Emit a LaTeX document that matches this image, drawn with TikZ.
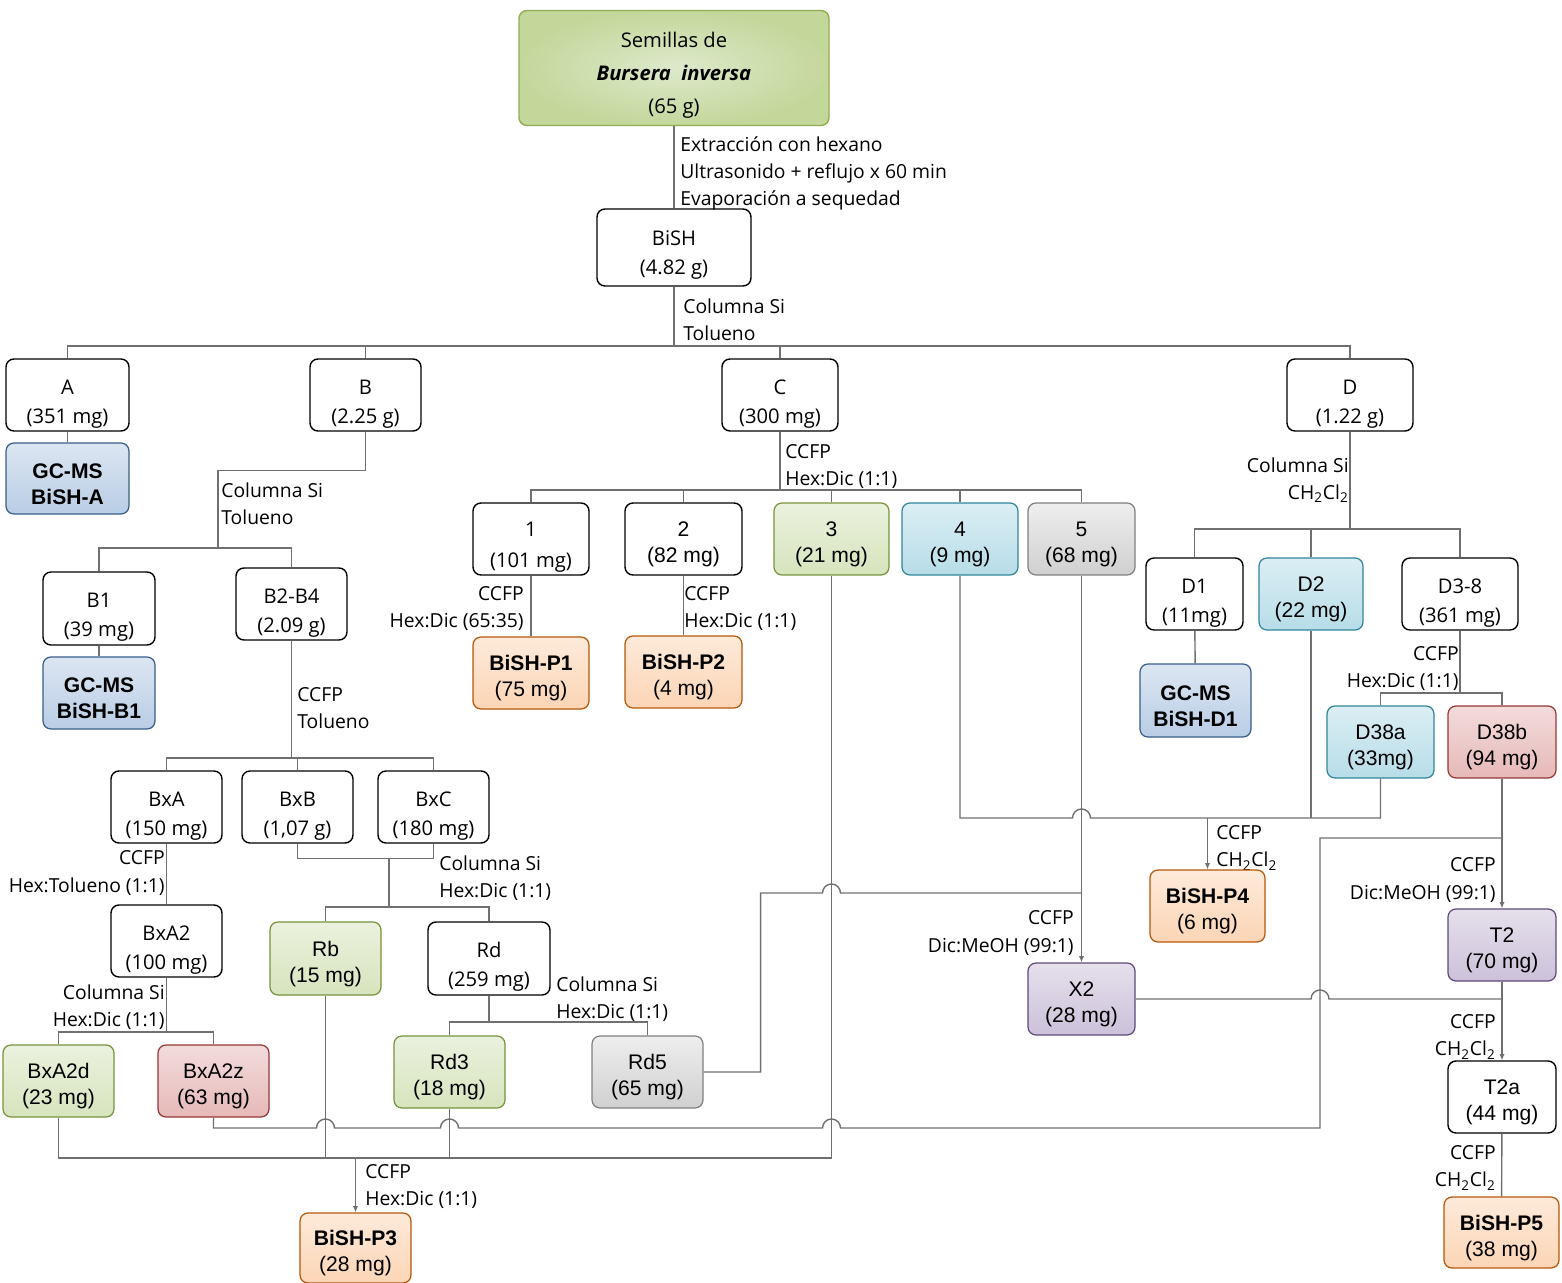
\documentclass[tikz,border=0pt]{standalone}
\usepackage{fontspec}
\setmainfont{Liberation Sans}
\newfontfamily\handfont{Open Sans}
\usepackage{tikz}
\usetikzlibrary{arrows.meta}
\definecolor{linegray}{RGB}{112,112,112}
\definecolor{seedin}{RGB}{222,233,203}
\definecolor{seedout}{RGB}{196,215,155}
\definecolor{seededge}{RGB}{143,174,83}
\definecolor{greentop}{RGB}{235,241,222}
\definecolor{greenbot}{RGB}{215,228,189}
\definecolor{greenedge}{RGB}{119,147,60}
\definecolor{bluetop}{RGB}{220,230,242}
\definecolor{bluebot}{RGB}{185,205,229}
\definecolor{blueedge}{RGB}{56,93,138}
\definecolor{orangetop}{RGB}{253,234,218}
\definecolor{orangebot}{RGB}{252,213,181}
\definecolor{orangeedge}{RGB}{182,87,8}
\definecolor{cyantop}{RGB}{219,238,244}
\definecolor{cyanbot}{RGB}{183,221,232}
\definecolor{cyanedge}{RGB}{49,133,155}
\definecolor{greytop}{RGB}{238,238,238}
\definecolor{greybot}{RGB}{208,208,208}
\definecolor{greyedge}{RGB}{127,127,127}
\definecolor{redtop}{RGB}{242,220,219}
\definecolor{redbot}{RGB}{230,185,184}
\definecolor{rededge}{RGB}{149,55,53}
\definecolor{violettop}{RGB}{229,224,236}
\definecolor{violetbot}{RGB}{204,193,218}
\definecolor{violetedge}{RGB}{95,73,122}
\newcommand{\handbox}{\handfont\fontsize{11.5}{16.5}\selectfont}
\newcommand{\arialbox}{\fontsize{12}{14.7}\selectfont}
\newcommand{\lblfont}{\handfont\fontsize{11}{15.4}\selectfont}
\tikzstyle{plainbox} = [
    rectangle,
    rounded corners=0.16cm,
    draw=black,
    line width=0.8pt,
    fill=white,
    align=center,
    inner sep=0pt,
    text height=35pt,
    font=\handbox
]
\tikzstyle{fillbox} = [plainbox, line width=0.7pt, text height=29.5pt, font=\arialbox]
\tikzstyle{greenbox} = [fillbox, draw=greenedge, top color=greentop, bottom color=greenbot]
\tikzstyle{bluebox} = [fillbox, draw=blueedge, top color=bluetop, bottom color=bluebot]
\tikzstyle{orangebox} = [fillbox, draw=orangeedge, top color=orangetop, bottom color=orangebot]
\tikzstyle{cyanbox} = [fillbox, draw=cyanedge, top color=cyantop, bottom color=cyanbot]
\tikzstyle{greybox} = [fillbox, draw=greyedge, top color=greytop, bottom color=greybot]
\tikzstyle{redbox} = [fillbox, draw=rededge, top color=redtop, bottom color=redbot]
\tikzstyle{violetbox} = [fillbox, draw=violetedge, top color=violettop, bottom color=violetbot]
\tikzstyle{lbl} = [inner sep=0pt, font=\lblfont]
\tikzstyle{line} = [draw=linegray, line width=0.8pt]
\tikzstyle{arrow} = [
    line,
    -{Latex[length=3.5pt, width=3pt]}
]
\tikzset{wh/.style 2 args={minimum width=#1*0.02cm, minimum height=#2*0.02cm}}
\begin{document}
\begin{tikzpicture}[x=0.02cm, y=-0.02cm]
    \useasboundingbox (0,0) rectangle (1562,1283);
    % Extraction
    \node[plainbox, wh={310}{115}, draw=seededge, inner color=seedin, outer color=seedout, text height=54pt, font=\handfont\fontsize{11.5}{18.5}\selectfont] (seeds) at (674,68) {Semillas de\\\textbf{\textit{Bursera\ \ inversa}}\\(65 g)};
    \node[plainbox, wh={154}{77}, text height=33.5pt] (bish) at (674,247.5) {BiSH\\(4.82 g)};
    \node[lbl, anchor=west, align=left] (lext) at (680,173) {Extracción con hexano\\Ultrasonido + reflujo x 60 min\\Evaporación a sequedad};
    \node[lbl, anchor=west, align=left] (lbish) at (683,320) {Columna Si\\Tolueno};

    % First fractions
    \node[plainbox, wh={123}{72}] (A) at (67.5,395) {A\\(351 mg)};
    \node[plainbox, wh={111}{72}] (B) at (365.5,395) {B\\(2.25 g)};
    \node[plainbox, wh={116}{72}] (C) at (780,395) {C\\(300 mg)};
    \node[plainbox, wh={126}{72}] (D) at (1350,395) {D\\(1.22 g)};
    \node[bluebox, wh={123}{71}, font=\arialbox\bfseries] (gcA) at (67.5,478.5) {GC-MS\\BiSH-A};

    % Fraction B
    \node[lbl, anchor=west, align=left] (lB) at (221,504) {Columna Si\\Tolueno};
    \node[plainbox, wh={112}{73}] (B1) at (99,608.5) {B1\\(39 mg)};
    \node[plainbox, wh={111}{72}] (B24) at (291.5,604) {B2-B4\\(2.09 g)};
    \node[bluebox, wh={112}{72}, font=\arialbox\bfseries] (gcB1) at (99,693) {GC-MS\\BiSH-B1};
    \node[lbl, anchor=west, align=left] (lB24) at (297,708.5) {CCFP\\Tolueno};
    \node[plainbox, wh={111}{72}] (BxA) at (166.5,807) {BxA\\(150 mg)};
    \node[plainbox, wh={111}{72}] (BxB) at (297.5,807) {BxB\\(1,07 g)};
    \node[plainbox, wh={111}{72}] (BxC) at (433.5,807) {BxC\\(180 mg)};
    \node[lbl, anchor=east, align=right] (lBxA) at (165,873) {CCFP\\Hex:Tolueno (1:1)};
    \node[plainbox, wh={111}{72}] (BxA2) at (166.5,941) {BxA2\\(100 mg)};
    \node[lbl, anchor=east, align=right] (lBxA2) at (165,1007.5) {Columna Si\\Hex:Dic (1:1)};
    \node[greenbox, wh={111}{72}] (BxA2d) at (58.5,1081) {BxA2d\\(23 mg)};
    \node[redbox, wh={111}{72}] (BxA2z) at (213.5,1081) {BxA2z\\(63 mg)};
    \node[lbl, anchor=west, align=left] (lBxBC) at (439,878) {Columna Si\\Hex:Dic (1:1)};
    \node[greenbox, wh={111}{73}] (Rb) at (325.5,958.5) {Rb\\(15 mg)};
    \node[plainbox, wh={122}{73}] (Rd) at (489,958.5) {Rd\\(259 mg)};
    \node[lbl, anchor=west, align=left] (lRd) at (556,999.5) {Columna Si\\Hex:Dic (1:1)};
    \node[greenbox, wh={111}{72}] (Rd3) at (449.5,1072) {Rd3\\(18 mg)};
    \node[greybox, wh={111}{72}] (Rd5) at (647.5,1072) {Rd5\\(65 mg)};
    \node[lbl, anchor=west, align=left] (lP3) at (365,1186.5) {CCFP\\Hex:Dic (1:1)};
    \node[orangebox, wh={111}{70}] (P3) at (355.5,1248) {\textbf{BiSH-P3}\\(28 mg)};

    % Fraction C
    \node[lbl, anchor=west, align=left] (lC) at (785,467) {CCFP\\Hex:Dic (1:1)};
    \node[plainbox, wh={116}{72}, font=\handfont\fontsize{11.5}{17.5}\selectfont] (n1) at (531,539) {1\\(101 mg)};
    \node[plainbox, wh={117}{72}, text height=29.5pt, font=\arialbox] (n2) at (683.5,539) {2\\(82 mg)};
    \node[greenbox, wh={115}{72}] (n3) at (831.5,539) {3\\(21 mg)};
    \node[cyanbox, wh={116}{72}] (n4) at (960,539) {4\\(9 mg)};
    \node[greybox, wh={107}{72}] (n5) at (1081.5,539) {5\\(68 mg)};
    \node[lbl, anchor=east, align=right] (ln1) at (524,609) {CCFP\\Hex:Dic (65:35)};
    \node[lbl, anchor=west, align=left] (ln2) at (684,609) {CCFP\\Hex:Dic (1:1)};
    \node[orangebox, wh={116}{72}] (P1) at (531,673) {\textbf{BiSH-P1}\\(75 mg)};
    \node[orangebox, wh={117}{72}] (P2) at (683.5,672) {\textbf{BiSH-P2}\\(4 mg)};

    % Fraction D
    \node[lbl, anchor=east, align=right] (lD) at (1349,480) {Columna Si\\CH\textsubscript{2}Cl\textsubscript{2}};
    \node[plainbox, wh={97}{72}] (D1) at (1194.5,594) {D1\\(11mg)};
    \node[cyanbox, wh={104}{72}] (D2) at (1311,594) {D2\\(22 mg)};
    \node[plainbox, wh={116}{72}] (D38) at (1460,594) {D3-8\\(361 mg)};
    \node[bluebox, wh={111}{73}, font=\arialbox\bfseries] (gcD1) at (1195.5,700.5) {GC-MS\\BiSH-D1};
    \node[lbl, anchor=east, align=right] (lD38) at (1459,669) {CCFP\\Hex:Dic (1:1)};
    \node[cyanbox, wh={107}{72}] (D38a) at (1380.5,742) {D38a\\(33mg)};
    \node[redbox, wh={108}{72}] (D38b) at (1502,742) {D38b\\(94 mg)};

    % Pooled fractions
    \node[lbl, anchor=west, align=left] (lP4) at (1216,848) {CCFP\\CH\textsubscript{2}Cl\textsubscript{2}};
    \node[orangebox, wh={115}{72}] (P4) at (1207.5,906) {\textbf{BiSH-P4}\\(6 mg)};
    \node[lbl, anchor=east, align=right] (lX2) at (1074,933) {CCFP\\Dic:MeOH (99:1)};
    \node[violetbox, wh={107}{72}] (X2) at (1081.5,999) {X2\\(28 mg)};
    \node[lbl, anchor=east, align=right] (lT2) at (1496,880) {CCFP\\Dic:MeOH (99:1)};
    \node[violetbox, wh={108}{72}] (T2) at (1502,945) {T2\\(70 mg)};
    \node[lbl, anchor=east, align=right] (lT2a) at (1496,1037) {CCFP\\CH\textsubscript{2}Cl\textsubscript{2}};
    \node[plainbox, wh={108}{72}, text height=29.5pt, font=\arialbox] (T2a) at (1502,1097) {T2a\\(44 mg)};
    \node[lbl, anchor=east, align=right] (lP5) at (1496,1168) {CCFP\\CH\textsubscript{2}Cl\textsubscript{2}};
    \node[orangebox, wh={115}{71}] (P5) at (1501.5,1232.5) {\textbf{BiSH-P5}\\(38 mg)};

    % Tree connectors
    \coordinate (busTop) at (674,346);
    \draw[line] (seeds) -- (bish);
    \draw[line] (bish) -- (busTop);
    \draw[line] (A.north) |- (busTop) -| (D.north);
    \draw[line] (B.north) -- (B.north |- busTop);
    \draw[line] (C.north) -- (C.north |- busTop);
    \draw[line] (A) -- (gcA);

    \coordinate (busB) at (218,548);
    \draw[line] (B.south) -- ++(0,39) -| (busB);
    \draw[line] (B1.north) |- (busB) -| (B24.north);
    \draw[line] (B1) -- (gcB1);
    \coordinate (busBx) at (291.5,758);
    \draw[line] (B24) -- (busBx);
    \draw[line] (BxA.north) |- (busBx) -| (BxC.north);
    \draw[line] (BxB.north) -- (BxB.north |- busBx);
    \draw[line] (BxA) -- (BxA2);
    \coordinate (busA2) at (166.5,1032);
    \draw[line] (BxA2) -- (busA2);
    \draw[line] (BxA2d.north) |- (busA2) -| (BxA2z.north);
    \draw[line] (BxB.south) -- ++(0,15) -| (BxC.south);
    \coordinate (jBC) at (389,858);
    \coordinate (busR) at (389,907);
    \draw[line] (jBC) -- (busR);
    \draw[line] (Rb.north) |- (busR) -| (Rd.north);
    \coordinate (busRd) at (489,1022);
    \draw[line] (Rd) -- (busRd);
    \draw[line] (Rd3.north) |- (busRd) -| (Rd5.north);

    \coordinate (busC) at (780,490);
    \draw[line] (C) -- (busC);
    \draw[line] (n1.north) |- (busC) -| (n5.north);
    \foreach \n in {n2,n3,n4}
        \draw[line] (\n.north) -- (\n.north |- busC);
    \draw[line] (n1) -- (P1);
    \draw[line] (n2) -- (P2);

    \coordinate (busD) at (1350,529);
    \draw[line] (D) -- (busD);
    \draw[line] (D1.north) |- (busD) -| (D38.north);
    \draw[line] (D2.north) -- (D2.north |- busD);
    \draw[line] (D1) -- (gcD1);
    \coordinate (busD38) at (1460,693);
    \draw[line] (D38) -- (busD38);
    \draw[line] (D38a.north) |- (busD38) -| (D38b.north);

    % Pooling connectors (with line jumps)
    \coordinate (jP4) at (1207.5,818);
    \draw[line] (n4.south) |- (1072.5,818) arc[start angle=180, end angle=0, radius=0.18cm] -| (D38a.south);
    \draw[line] (D2.south) -- (D2.south |- jP4);
    \draw[arrow] (jP4) -- (P4);

    \coordinate (jX2) at (1081.5,893);
    \draw[arrow] (n5) -- (X2);
    \draw[line] (Rd5.east) -- ++(57,0) |- (822.5,893) arc[start angle=180, end angle=0, radius=0.18cm] -- (jX2);

    \coordinate (busP3) at (355.5,1158);
    \draw[line] (BxA2d.south) |- (busP3) -| (n3.south);
    \draw[line] (Rb.south) -- (Rb.south |- busP3);
    \draw[line] (Rd3.south) -- (Rd3.south |- busP3);
    \draw[arrow] (busP3) -- (P3);

    \coordinate (jT2) at (1502,838);
    \draw[line] (BxA2z.south) |- (316.5,1128) arc[start angle=180, end angle=0, radius=0.18cm]
        -- (440.5,1128) arc[start angle=180, end angle=0, radius=0.18cm]
        -- (822.5,1128) arc[start angle=180, end angle=0, radius=0.18cm]
        -- (1320,1128) |- (jT2);
    \draw[arrow] (D38b) -- (T2);

    \coordinate (jT2a) at (1502,999);
    \draw[line] (X2.east) -- (1311,999) arc[start angle=180, end angle=0, radius=0.18cm] -- (jT2a);
    \draw[arrow] (T2) -- (T2a);
    \draw[line] (T2a) -- (P5);
\end{tikzpicture}
\end{document}
